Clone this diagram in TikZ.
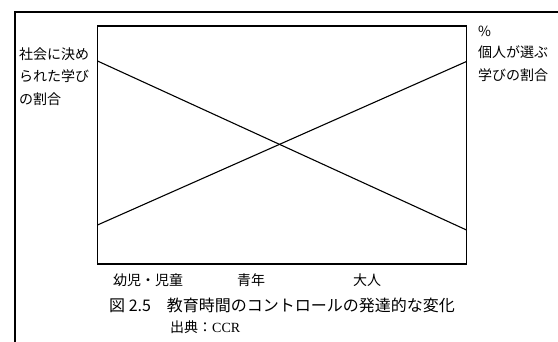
\documentclass[tikz,border=0pt]{standalone}
\usepackage{fontspec}
\setmainfont{Noto Sans CJK JP}
\newfontfamily\serifen{Liberation Serif}
\begin{document}
\begin{tikzpicture}[x=1pt,y=-1pt,
  frameline/.style={line width=2.6pt,line cap=rect},
  boxline/.style={line width=1.2pt},
  trend/.style={line width=1.1pt},
  lab/.style={inner sep=0pt,anchor=west,font=\fontsize{14}{22}\selectfont},
  caption/.style={inner sep=0pt,anchor=west,font=\fontsize{16}{18}\selectfont}]
\useasboundingbox (0,0) rectangle (558,342);
% outer frame
\coordinate (fbl) at (15,342);
\coordinate (ftl) at (15,12);
\coordinate (ftr) at (558,12);
\draw[frameline] (fbl) -- (ftl) -- (ftr);
% chart box
\coordinate (bl) at (97.5,264);
\coordinate (tr) at (466.5,26);
\draw[boxline] (bl) rectangle (tr);
% trend lines
\coordinate (sL) at (97.5,61);
\coordinate (sR) at (466.5,230);
\coordinate (iL) at (97.5,225);
\coordinate (iR) at (466.5,61.5);
\draw[trend] (sL) -- (sR);
\draw[trend] (iL) -- (iR);
% left label
\node[lab] (l1) at (19,54) {社会に決め};
\node[lab] (l2) at (19,76.5) {られた学び};
\node[lab] (l3) at (19,99) {の割合};
% right label
\node[lab] (r0) at (478,31) {\%};
\node[lab] (r1) at (478,52.5) {個人が選ぶ};
\node[lab] (r2) at (478,75) {学びの割合};
% x labels
\node[lab] (x1) at (113,280) {幼児・児童};
\node[lab] (x2) at (237,280) {青年};
\node[lab] (x3) at (353,280) {大人};
% caption
\node[caption] (cap) at (109,305) {図 2.5\hspace{1em}教育時間のコントロールの発達的な変化};
\node[lab] (src) at (170,327) {出典：{\serifen CCR}};
\end{tikzpicture}
\end{document}
